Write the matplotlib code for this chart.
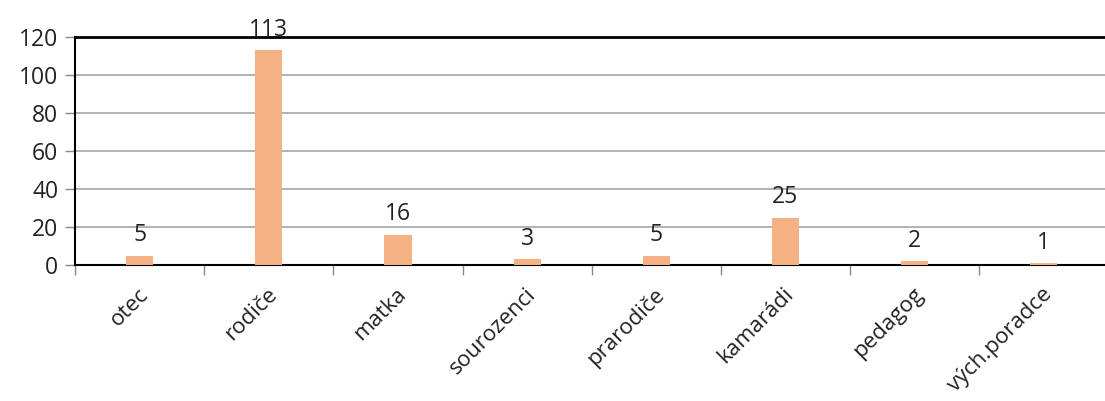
import matplotlib.pyplot as plt
import numpy as np

categories = ['otec', 'rodiče', 'matka', 'sourozenci', 'prarodiče', 'kamarádi', 'pedagog', 'vých.poradce']
values = [5, 113, 16, 3, 5, 25, 2, 1]

plt.rcParams['font.family'] = ['Open Sans', 'DejaVu Sans']

fig = plt.figure(figsize=(11.05, 4.01), dpi=100)
ax = fig.add_axes([0.068, 0.339, 0.935, 0.569])

x = np.arange(len(categories))
bars = ax.bar(x, values, width=0.21, color='#F4B183', zorder=3)

for xi, v in zip(x, values):
    ax.annotate(str(v), (xi, v), xytext=(0, 6), textcoords='offset points',
                ha='center', va='bottom', fontsize=16.5, color='#222222')

ax.set_xlim(-0.5, 7.5)
ax.set_ylim(0, 120)
ax.set_yticks(range(0, 121, 20))
ax.yaxis.grid(True, color='#A6A6A6', linewidth=1.2, zorder=0)

# boundary ticks as major, labels at category centres as minor
ax.set_xticks(np.arange(-0.5, 7.5, 1))
ax.set_xticklabels([])
ax.set_xticks(x + 0.04, minor=True)
ax.set_xticklabels(categories, minor=True, rotation=45, ha='right', va='center',
                   rotation_mode='anchor', fontsize=16, color='#222222')
ax.tick_params(axis='x', which='major', length=7, color='#888888', width=1)
ax.tick_params(axis='x', which='minor', length=0, pad=19)
ax.tick_params(axis='y', length=7, color='#888888', width=1, labelsize=16.5,
               labelcolor='#222222', pad=5)

for s in ['left', 'bottom']:
    ax.spines[s].set_color('black')
    ax.spines[s].set_linewidth(1.5)
ax.spines['top'].set_color('black')
ax.spines['top'].set_linewidth(2)
ax.spines['right'].set_visible(False)

fig.savefig('out.png', dpi=100)
